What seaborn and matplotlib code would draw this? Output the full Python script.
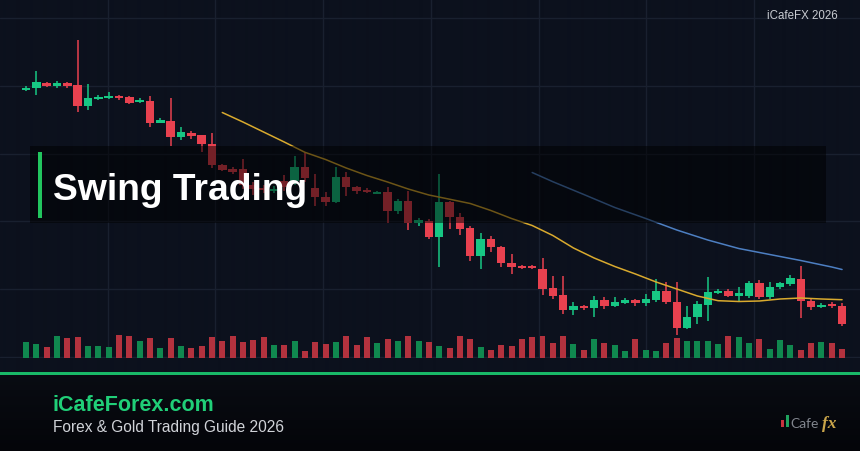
import numpy as np
import pandas as pd
import matplotlib
matplotlib.use("Agg")
import matplotlib.pyplot as plt
import seaborn as sns
from matplotlib.patches import Rectangle

# ---------------- data ----------------
opens = [309, 310.7, 316.5, 313, 316, 314, 293, 300.5, 301.5, 303,
         302, 296.7, 298, 276.3, 278, 262.3, 266.3, 264, 255, 234,
         230, 230, 214, 211, 208, 218, 218, 232.3, 210.7, 202.3,
         196.7, 222.3, 212.3, 209.3, 205.3, 207.3, 188.3, 198.3, 176, 178,
         161.7, 196.7, 182.3, 171, 143.3, 160, 152.3, 135.7, 133.3, 133,
         130, 111, 104, 89.3, 93, 91, 99.3, 92.7, 96, 99,
         95.7, 99, 108, 97.3, 70.7, 81.7, 94.3, 105.7, 108.3, 103.3,
         103.3, 115.7, 102.3, 111.7, 115, 120, 97.7, 91.7, 95, 93.3]
highs = [313, 328, 317, 318, 317, 359, 315, 304, 307, 304,
         303.3, 300.7, 303, 281.3, 301, 271.7, 268.3, 264.5, 266, 235,
         232, 240, 217, 214, 213, 224, 243.3, 246, 225, 206.7,
         231.7, 226.7, 213.3, 211, 208.3, 212.3, 200, 208.3, 180.7, 180,
         225, 198.3, 186, 172.7, 165.7, 162.7, 153.3, 145, 134, 134,
         140.7, 122.7, 123.3, 96.7, 94, 103.3, 102.3, 102.3, 100.7, 100,
         105, 120, 117.3, 117.3, 92.7, 98.3, 122.3, 109.7, 110, 111.7,
         118.3, 119, 117.3, 117.3, 124, 132.7, 100, 96, 96.7, 95.7]
lows = [308, 304, 312, 311, 311.3, 287, 289, 299, 300.5, 299.3,
        295.3, 295.7, 272, 275.7, 253.3, 259.3, 260, 247, 231, 228,
        225, 210, 204, 206, 206, 208, 214, 217, 193.3, 193.3,
        196, 203.3, 205, 206, 204.7, 175.7, 185, 169.3, 172.7, 160,
        132.3, 170, 164.3, 138.3, 130, 146.7, 131.7, 125, 130, 130,
        104, 100, 85, 84, 89.3, 81.7, 90, 91.7, 95, 92.7,
        93.3, 96.7, 95, 64, 70, 75, 77.7, 105, 101.7, 96.7,
        100.7, 100, 100, 110, 113.3, 80.7, 89.3, 90.7, 90.7, 73.3]
closes = [311, 317.3, 313.5, 316, 313.5, 293, 301, 302.3, 303.3, 301,
          296.3, 299, 276.3, 278.7, 262.3, 266.7, 263.3, 254.7, 234, 229,
          226.7, 214, 210, 209, 210.5, 212, 232.3, 220.7, 201.7, 196.7,
          222.3, 211.7, 208.3, 206.7, 207.3, 188.3, 198.3, 175.7, 178.7, 161.7,
          196.7, 182.3, 170, 143.3, 160, 152.3, 135.7, 131.7, 130.7, 130.7,
          110, 102.7, 89.3, 92.7, 90.7, 99.3, 92.7, 96.7, 99, 95.7,
          100, 108, 96.7, 70.7, 82.3, 95, 106.7, 108.3, 103.3, 106,
          115.7, 102.3, 111.7, 115.7, 120.7, 97.7, 91.7, 94.3, 92.7, 75]
volumes = [16, 13.7, 11, 22.3, 20, 21, 12.3, 11.7, 11, 23,
           22.3, 16.7, 19.7, 10, 19.7, 11.7, 9.7, 11.7, 21, 16.7,
           22.3, 16.3, 18.3, 21, 12.7, 13.3, 17.3, 7.3, 16, 14,
           16, 22.3, 13.3, 20.7, 14.7, 18.7, 16.7, 22, 17.3, 15.7,
           12.3, 10, 22.3, 18.7, 10.7, 8.3, 13, 11.7, 18.7, 20.7,
           21.7, 14.7, 22.3, 13.7, 8.3, 19.3, 14.7, 12.7, 7, 19.3,
           7.7, 7, 14.7, 20.3, 16.7, 16.7, 16.7, 13.7, 21.7, 21,
           14.7, 18.7, 9, 17.7, 13, 7.7, 14.7, 15.7, 15, 8.7]
ma20_idx = [19, 21, 23, 25, 27, 29, 31, 33, 35, 37, 39, 41, 43, 45, 47,
            49, 51, 53, 55, 57, 59, 61, 63, 65, 67, 69, 71, 73, 75, 77, 79]
ma20_val = [286.5, 277, 267, 257, 246.7, 239.5, 231, 223.5, 217, 210,
            204, 199.8, 195.5, 188.5, 180.5, 173.5, 163.5, 151, 141, 132.5,
            125, 117, 110, 103, 98.3, 97.5, 98, 100, 101, 100, 99.3]
ma50_idx = [49, 51, 54, 57, 60, 63, 66, 69, 72, 75, 78, 79]
ma50_val = [226.5, 217.3, 204.5, 191.5, 180.5, 169, 159, 150.5, 144.5,
            138.5, 132, 129.5]

# ---------------- style ----------------
BG = "#0c111d"
GRID = "#19202f"
UP = "#17c784"
DOWN = "#e8414f"
VUP = "#10884f"
VDOWN = "#b3323e"

sns.set_theme(style="dark", rc={"axes.facecolor": BG, "figure.facecolor": BG})
plt.rcParams["font.family"] = ["Liberation Sans", "DejaVu Sans"]

W, H = 860, 452
fig = plt.figure(figsize=(W / 100, H / 100), dpi=100)
fig.patch.set_facecolor(BG)

# background with darker footer gradient
bg = fig.add_axes([0, 0, 1, 1], zorder=-5)
bg.axis("off")
rows = np.zeros((H, 1, 3))
top_col = np.array([12, 17, 29]) / 255
f1 = np.array([9, 12, 19]) / 255
f2 = np.array([4, 5, 9]) / 255
rows[:, 0, :] = top_col
t = np.linspace(0, 1, H - 375)[:, None]
rows[375:, 0, :] = f1 * (1 - t) + f2 * t
bg.imshow(rows, aspect="auto", extent=[0, 1, 0, 1], interpolation="bilinear")
bg.set_xlim(0, 1)
bg.set_ylim(0, 1)

# price axes (pixel 0..359 vertically)
ax = fig.add_axes([0, (H - 359) / H, 1, 359 / H], zorder=1)
ax.set_facecolor("none")
n = len(opens)
idx = np.arange(n)
step = 10.33
xlo, xhi = -26 / step, (W - 26) / step

o = np.array(opens)
c = np.array(closes)
up = c >= o
cols = np.where(up, UP, DOWN)

# volume on a twin axis
vax = ax.twinx()
vdf = pd.DataFrame({"i": idx, "v": volumes, "dir": np.where(up, "up", "down")})
sns.barplot(data=vdf, x="i", y="v", hue="dir", palette={"up": VUP, "down": VDOWN},
            native_scale=True, width=0.58, errorbar=None, legend=False,
            saturation=1, ax=vax, zorder=2, linewidth=0, edgecolor="none")
vax.set_ylim(0, 359)
vax.set_yticks([])
vax.set_ylabel("")
vax.set_xlabel("")
for s in vax.spines.values():
    s.set_visible(False)

# candles
ax.vlines(idx, lows, highs, colors=cols, linewidth=1.1, zorder=3)
body = np.maximum(np.abs(c - o), 1.6)
ax.bar(idx, body, bottom=np.minimum(o, c), width=0.82, color=cols, zorder=4,
       linewidth=0)

# moving averages
sns.lineplot(x=ma20_idx, y=ma20_val, ax=ax, color="#d9aa2e", linewidth=1.1, zorder=5)
sns.lineplot(x=ma50_idx, y=ma50_val, ax=ax, color="#4d7fc2", linewidth=1.1, zorder=5)

ax.set_xlim(xlo, xhi)
vax.set_xlim(xlo, xhi)
ax.set_ylim(41, 400)
ax.set_xticks([(107.7 * k - 26) / step for k in range(1, 8)])
ax.set_yticks([42 + 67.8 * k for k in range(0, 6)])
ax.grid(True, color=GRID, linewidth=1)
ax.tick_params(length=0, labelbottom=False, labelleft=False)
ax.set_xlabel("")
ax.set_ylabel("")
for s in ax.spines.values():
    s.set_visible(False)
ax.set_axisbelow(True)

def px(x, y):
    return x / W, 1 - y / H

# title box
fig.add_artist(Rectangle(px(30, 224), 796 / W, 77 / H, transform=fig.transFigure,
                         facecolor="black", alpha=0.5, edgecolor="none", zorder=10))
fig.add_artist(Rectangle(px(38, 219), 4 / W, 66 / H, transform=fig.transFigure,
                         facecolor="#22c55e", edgecolor="none", zorder=11))
fig.text(*px(53, 200), "Swing Trading", fontsize=26.8, fontweight="bold",
         color="white", va="baseline", ha="left", zorder=12)

# top-right stamp
fig.text(*px(838, 19), "iCafeFX 2026", fontsize=8.3, color="#c9ccd2",
         ha="right", va="baseline", zorder=12)

# separator line
fig.add_artist(Rectangle(px(0, 375.5), 1, 3 / H, transform=fig.transFigure,
                         facecolor="#19b968", edgecolor="none", zorder=11))

# footer
fig.text(*px(53, 411), "iCafeForex.com", fontsize=15.5, fontweight="bold",
         color="#20cf78", ha="left", va="baseline", zorder=12)
fig.text(*px(53, 432), "Forex & Gold Trading Guide 2026", fontsize=11.2,
         color="#d0d3d8", ha="left", va="baseline", zorder=12)

# logo
fig.add_artist(Rectangle(px(781, 428), 3 / W, 7 / H, transform=fig.transFigure,
                         facecolor="#c8343e", edgecolor="none", zorder=12))
fig.add_artist(Rectangle(px(785.5, 428), 3.5 / W, 12 / H, transform=fig.transFigure,
                         facecolor="#1fa35e", edgecolor="none", zorder=12))
fig.text(*px(790, 428), "Cafe", fontsize=10, color="#80858d",
         family=["Lato", "DejaVu Sans"],
         ha="left", va="baseline", zorder=12)
fig.text(*px(822, 428), "fx", fontsize=12.5, color="#c9a54a",
         family=["Liberation Serif", "DejaVu Serif"], fontstyle="italic",
         fontweight="bold", ha="left", va="baseline", zorder=12)

fig.savefig("out.png", dpi=100, facecolor=BG)
